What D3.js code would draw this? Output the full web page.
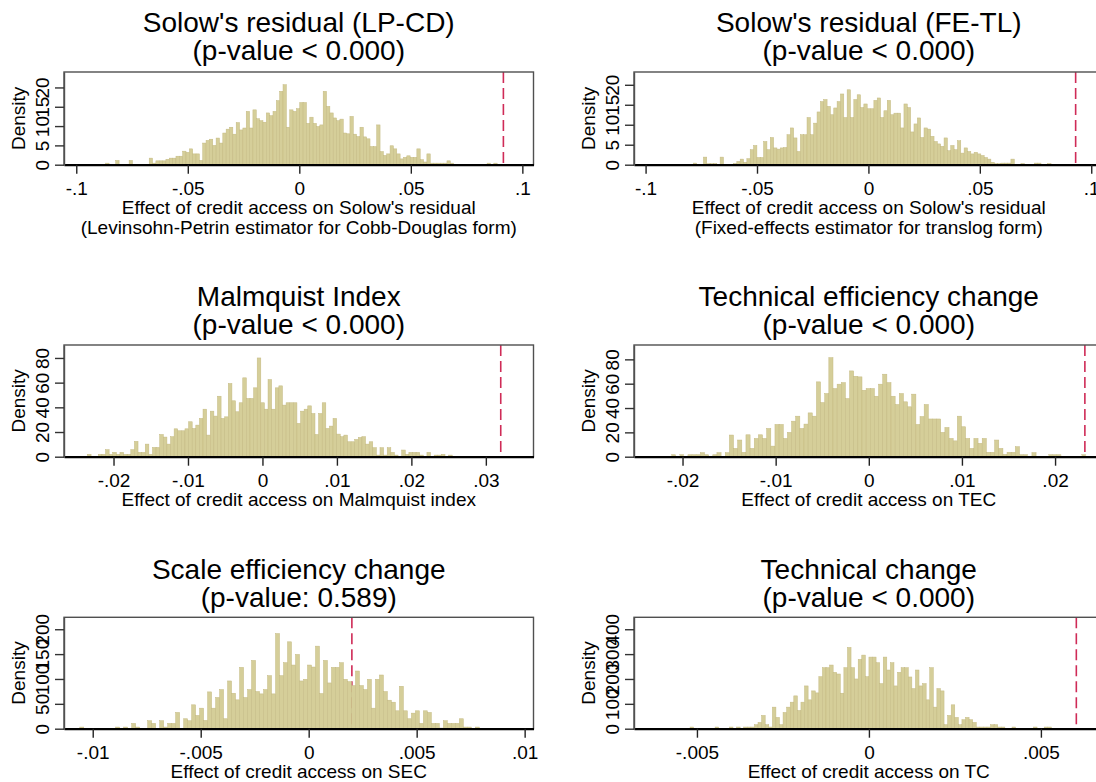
<!DOCTYPE html>
<html>
<head>
<meta charset="utf-8">
<script src="https://cdn.jsdelivr.net/npm/d3@7"></script>
<style>
  html, body { margin: 0; padding: 0; background: #fff; }
  svg { display: block; font-family: "Liberation Sans", Arial, sans-serif; }
</style>
</head>
<body>
<svg id="chart" width="1096" height="782"></svg>
<script>
// ---------- DATA ----------
const titleLine1 = ["Solow's residual (LP-CD)", "Solow's residual (FE-TL)", "Malmquist Index",
  "Technical efficiency change", "Scale efficiency change", "Technical change"];
const titleLine2 = ["(p-value < 0.000)", "(p-value < 0.000)", "(p-value < 0.000)",
  "(p-value < 0.000)", "(p-value: 0.589)", "(p-value < 0.000)"];
const xTitleLine1 = ["Effect of credit access on Solow's residual", "Effect of credit access on Solow's residual",
  "Effect of credit access on Malmquist index", "Effect of credit access on TEC",
  "Effect of credit access on SEC", "Effect of credit access on TC"];
const xTitleLine2 = ["(Levinsohn-Petrin estimator for Cobb-Douglas form)", "(Fixed-effects estimator for translog form)",
  "", "", "", ""];

// x-axis ticks, domains, y ticks, y max, observed effect (dashed line)
const xTicks = [[-0.1, -0.05, 0, 0.05, 0.1], [-0.1, -0.05, 0, 0.05, 0.1],
  [-0.02, -0.01, 0, 0.01, 0.02, 0.03], [-0.02, -0.01, 0, 0.01, 0.02],
  [-0.01, -0.005, 0, 0.005, 0.01], [-0.005, 0, 0.005]];
const xDomains = [[-0.1055, 0.105], [-0.1052, 0.1055], [-0.02665, 0.0364],
  [-0.02521, 0.0252], [-0.01133, 0.01041], [-0.00683, 0.00682]];
const yTicks = [[0, 5, 10, 15, 20], [0, 5, 10, 15, 20], [0, 20, 40, 60, 80],
  [0, 20, 40, 60, 80], [0, 50, 100, 150, 200], [0, 100, 200, 300, 400]];
const yMax = [24, 23.2, 90.5, 91.8, 224, 448];
const observedEffect = [0.0915, 0.093, 0.032, 0.0232, 0.002, 0.00603];

// histogram bins: start of first bin and bin width
const binStart = [-0.0868, -0.07855, -0.0235, -0.0212, -0.0106, -0.0052];
const binWidth = [0.0015, 0.0015, 0.000485, 0.000445, 0.000185, 0.000104];

// densities (bar heights)
const densLPCD = [0.4,0,0,1.1,0,0,0,1.1,0,0,0,0,0,1.7,0.4,1.0,1.0,1.0,1.4,1.7,1.7,2.2,2.2,3.5,3.2,4.1,2.8,2.8,1.1,
  5.6,6.3,6.6,5.0,6.9,5.6,8.2,9.2,9.7,7.9,10.9,9.0,9.5,13.8,9.5,14.2,11.9,11.4,11.0,13.4,12.7,13.8,16.6,19.0,20.7,
  9.7,14.2,13.8,14.5,16.1,16.1,10.7,12.3,10.7,9.9,10.3,19.0,15.1,13.4,12.1,11.4,11.8,8.2,8.0,12.5,7.9,7.3,9.7,7.2,
  6.7,4.7,4.7,10.3,3.4,2.4,2.8,4.9,4.1,2.8,1.5,1.9,2.3,1.9,1.9,4.1,1.3,0.7,2.8,0.4,0.4,0.4,0.4,0.4,1.0,0.4,
  0,0,0,0,0,0,0,0,0,0,0.4,0,0.4];
const densFETL = [0.4,0,0,1.9,0.25,0.25,0.3,0,1.9,0,0,0,0.3,0.8,1.4,0.6,1.5,3.75,4.8,1.8,1.8,5.8,3.75,6.8,4.2,3.9,
  4.2,4.3,7.5,9.2,6.7,3.3,7.5,7.5,11.8,7.5,10.4,13.2,15.8,16.3,14.6,12.5,14.2,15.8,17.7,11.8,18.75,11.8,16.3,17.5,
  14.3,15.2,14.0,14.0,16.1,16.7,11.8,13.5,16.1,12.5,12.9,12.9,9.2,15.2,14.3,8.2,10.2,11.7,6.8,9.2,8.9,7.1,5.8,5.2,
  4.6,6.7,3.5,4.8,3.75,6.0,2.9,4.2,3.3,2.7,3.1,2.7,2.3,1.8,1.4,0.6,0.25,0.25,0.4,0.4,0.4,1.4,0,0,0.3,0,0,0,0.4,0.4,
  0,0,0.3];
const densMalm = [1.9,0,0,1.9,1.9,5.7,1.9,3.5,1.9,3.5,1.9,1.9,5.7,12.4,3.5,3.5,10.2,1.9,7.5,7.5,18,15.9,10.2,16.2,
  22.6,21,21,22.6,28.3,22.9,25.6,31,38.5,17.5,36.9,32.9,49,31,32.3,59.3,45.3,36.4,43.7,63.9,47.2,47.2,55.8,80,
  43.7,38.5,62.5,38.5,55.8,57.4,41.8,43.7,43.7,43.7,27,36.9,38.5,41.2,35,18,35,43.7,22.9,24.8,31,18.3,16.2,17.5,
  12.1,12.1,14,15.6,16.2,10.2,12.1,7.3,1.3,7.3,1.3,7.3,3.5,1.3,0,5.4,1.9,3.5,3.5,3.5,1.3,0,3.5,0,1.3,1.3,1.9,0,1.3];
const densTEC = [1.6,0,1.6,0,1.6,1.6,1.6,3.3,1.6,0,1.6,3.3,0,3.3,17.8,6.8,13.7,3.6,18,6.8,15,18,15,23.2,8.7,26.5,
  26.5,15,20,29.2,33.3,23.2,26.8,36,33.3,61.5,44.5,51.9,81.4,56,59.6,60.9,47.8,70.5,66.1,65.6,54.6,56,56,49.7,59.6,
  67.8,60.9,49.7,42.9,51.9,45.1,41,51.4,26.5,33,42.9,31,31,31,20,24,15,13,33.3,24.6,15,6.8,15,11,15,3.6,3.6,13.7,
  6.8,1.9,3.6,3.6,8.2,1.6,1.6,0,3.3,0,0,0,1.6,1.6,1.6,0,0,0,0,0,1.6,0];
const densSEC = [3.3,0,0,0,0,0,0,0,0,3.3,0,3.3,0,10.7,3.3,0,0,16,10.7,0,16,3.3,10.7,10.7,32.7,0,20,16,48,26.7,41.3,
  16.7,74,41.3,62.7,78.7,20,96,71.3,58,123.3,62.7,78.7,137.3,74.7,70,78.7,106.7,70,191.3,106.7,132.7,174.7,128,
  149.3,96,99.3,128,124,166,70.7,137.3,92,123.3,123.3,132.7,99.3,94.7,86.7,116,86.7,78.7,99.3,41.3,99.3,108,74.7,
  57.3,53.3,36,85.3,36,20,31.3,36,10.7,36,32.7,10.7,10.7,1.3,16,10.7,10.7,10.7,20,3.3,3.3,0,3.3];
const densTC = [6.7,0,0,0,0,0,0,6.7,0,0,0,6.7,0,6.7,0,6.7,6.7,6.7,16,25.3,53.3,16,6.7,86.7,45.3,16,65.3,86.7,106.7,
  132,73.3,106.7,172,116,152,144,209.3,245.3,245.3,256,226.7,220,142.7,245.3,326.7,245.3,200,278.7,296,209.3,288,
  288,265.3,181.3,288,236,265.3,172,226.7,245.3,245.3,208,161.3,236,172,181.3,116,245.3,86.7,161.3,152,16,53.3,96,
  45.3,16,36,45.3,36,25.3,6.7,6.7,6.7,6.7,16,16,6.7,6.7,0,0,6.7,0,0,0,0,0,6.7,0,0,6.7,6.7];
const densities = [densLPCD, densFETL, densMalm, densTEC, densSEC, densTC];

// ---------- LAYOUT ----------
const colLeft = [64, 634];
const boxWidth = 469.5;
const rowTop = [72, 345, 617.3];
const rowBottom = [164.7, 456.7, 728.7];
const titleBase = [[32, 60], [306, 334], [579, 607]];

const barFill = "#d5ce99";
const barStroke = "#c4b981";
const refColor = "#cf2b57";

const svg = d3.select("#chart");
svg.append("rect").attr("width", 1096).attr("height", 782).attr("fill", "#fff");

const fmt = d => {
  const s = String(+d.toFixed(6));
  return s.replace(/^(-?)0\./, "$1.");
};

for (let p = 0; p < 6; p++) {
  const col = p % 2, row = Math.floor(p / 2);
  const left = colLeft[col], right = left + boxWidth;
  const top = rowTop[row], bottom = rowBottom[row];
  const g = svg.append("g");

  const x = d3.scaleLinear().domain(xDomains[p]).range([left, right]);
  const y = d3.scaleLinear().domain([0, yMax[p]]).range([bottom, top]);

  // plot region background
  g.append("rect").attr("x", left).attr("y", top).attr("width", boxWidth).attr("height", bottom - top)
    .attr("fill", "#fff");

  // observed effect line (behind the bars)
  g.append("line")
    .attr("x1", x(observedEffect[p])).attr("x2", x(observedEffect[p]))
    .attr("y1", top).attr("y2", bottom)
    .attr("stroke", refColor).attr("stroke-width", 1.6).attr("stroke-dasharray", "11,5");

  // bars
  const bins = densities[p].map((h, i) => ({
    x0: binStart[p] + i * binWidth[p],
    x1: binStart[p] + (i + 1) * binWidth[p],
    h
  })).filter(d => d.h > 0);
  g.append("g").selectAll("rect").data(bins).join("rect")
    .attr("x", d => x(d.x0))
    .attr("width", d => Math.max(0.5, x(d.x1) - x(d.x0)))
    .attr("y", d => y(d.h))
    .attr("height", d => y(0) - y(d.h))
    .attr("fill", barFill).attr("stroke", barStroke).attr("stroke-width", 0.5);

  // box outline
  g.append("rect").attr("x", left).attr("y", top).attr("width", boxWidth).attr("height", bottom - top)
    .attr("fill", "none").attr("stroke", "#505050").attr("stroke-width", 1.4);

  // x axis
  const xa = g.append("g").attr("transform", `translate(0,${bottom})`)
    .call(d3.axisBottom(x).tickValues(xTicks[p]).tickFormat(fmt).tickSize(9).tickSizeOuter(0));
  xa.select(".domain").attr("stroke", "#000").attr("stroke-width", 2.2);
  xa.selectAll(".tick line").attr("stroke", "#222").attr("stroke-width", 1.4);
  xa.selectAll(".tick text").attr("y", 30).attr("dy", 0)
    .attr("font-size", 19).attr("fill", "#000")
    .style("font-family", '"Liberation Sans", Arial, sans-serif');

  // y axis
  const ya = g.append("g").attr("transform", `translate(${left},0)`)
    .call(d3.axisLeft(y).tickValues(yTicks[p]).tickFormat(fmt).tickSize(9).tickSizeOuter(0));
  ya.select(".domain").attr("stroke", "#505050").attr("stroke-width", 1.4);
  ya.selectAll(".tick line").attr("stroke", "#333").attr("stroke-width", 1.4);
  ya.selectAll(".tick text")
    .attr("x", null).attr("dy", null)
    .attr("text-anchor", "middle")
    .attr("transform", "translate(-15,0) rotate(-90)")
    .attr("font-size", 19).attr("fill", "#000")
    .style("font-family", '"Liberation Sans", Arial, sans-serif');

  // y title
  g.append("text")
    .attr("transform", `translate(${left - 39},${(top + bottom) / 2}) rotate(-90)`)
    .attr("text-anchor", "middle").attr("font-size", 19).attr("fill", "#000")
    .text("Density");

  // x titles
  const cx = (left + right) / 2;
  g.append("text").attr("x", cx).attr("y", bottom + 49).attr("text-anchor", "middle")
    .attr("font-size", 19).attr("fill", "#000").text(xTitleLine1[p]);
  if (xTitleLine2[p]) {
    g.append("text").attr("x", cx).attr("y", bottom + 69).attr("text-anchor", "middle")
      .attr("font-size", 19).attr("fill", "#000").text(xTitleLine2[p]);
  }

  // titles
  g.append("text").attr("x", cx).attr("y", titleBase[row][0]).attr("text-anchor", "middle")
    .attr("font-size", 28).attr("fill", "#000").text(titleLine1[p]);
  g.append("text").attr("x", cx).attr("y", titleBase[row][1]).attr("text-anchor", "middle")
    .attr("font-size", 28).attr("fill", "#000").text(titleLine2[p]);
}
</script>
</body>
</html>
